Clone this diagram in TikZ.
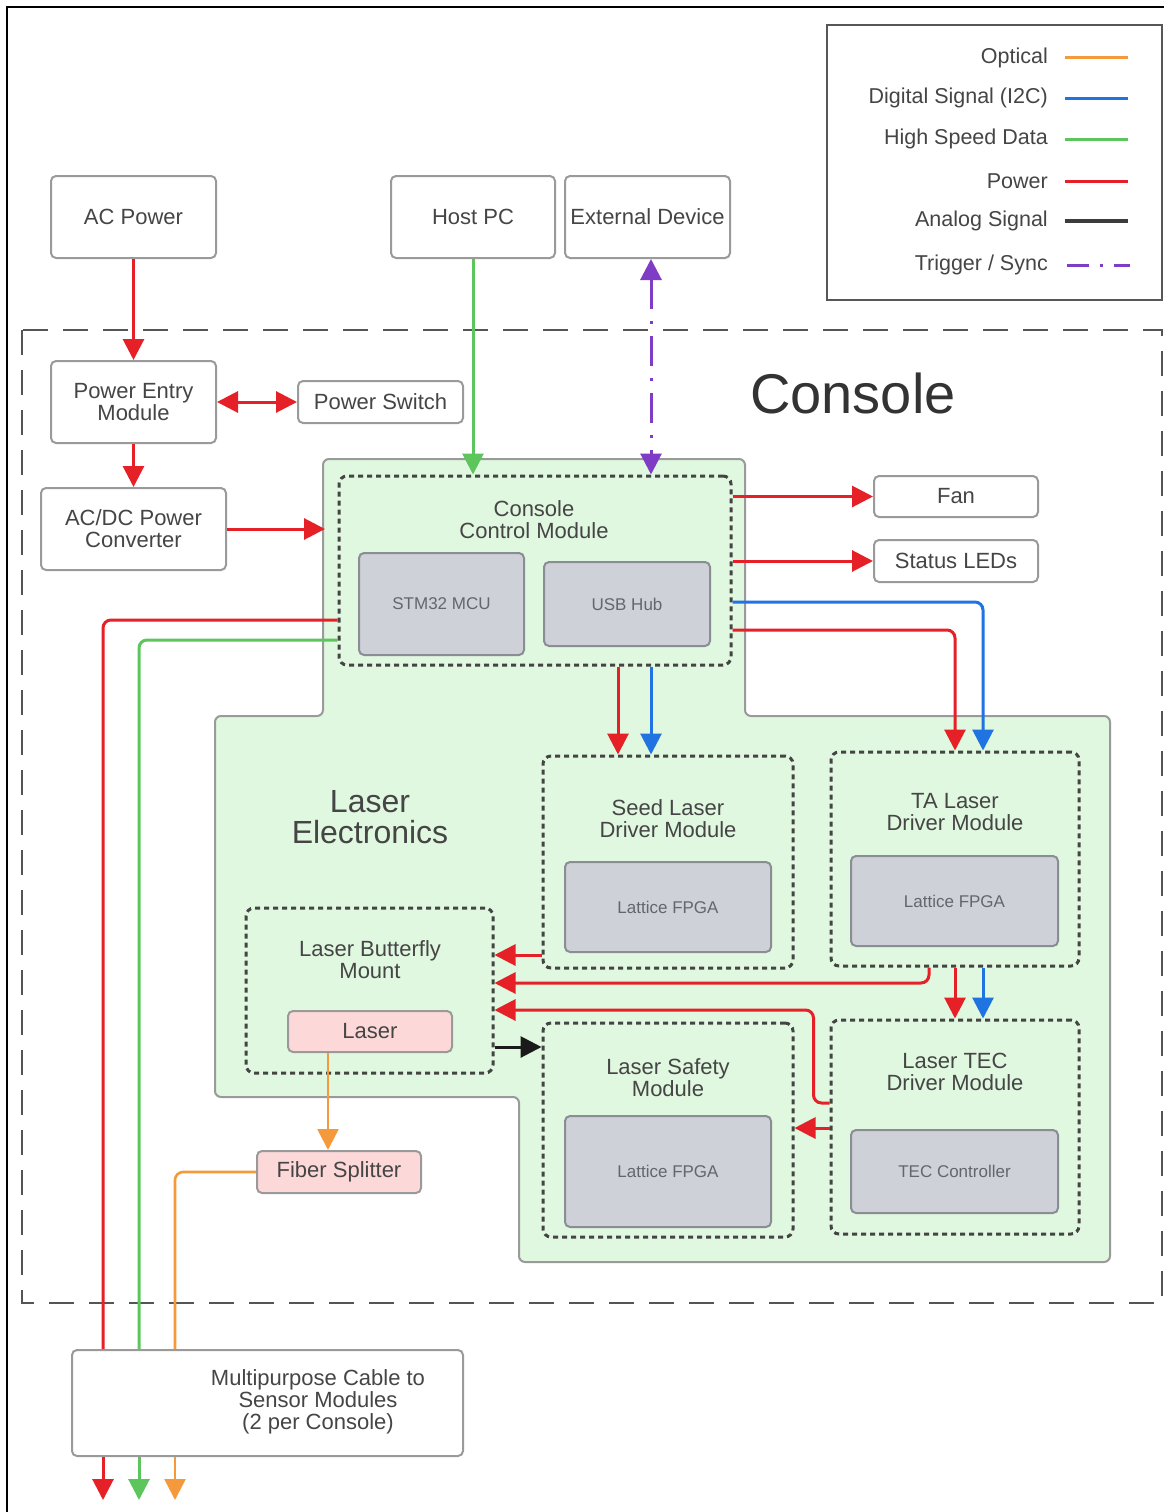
\documentclass[tikz,border=0pt]{standalone}
\usepackage{fontspec}
\setmainfont{Liberation Sans}
\usetikzlibrary{arrows.meta,calc}

\definecolor{pwr}{HTML}{E62027}
\definecolor{hsd}{HTML}{5CC65C}
\definecolor{i2c}{HTML}{1F74E2}
\definecolor{opt}{HTML}{F59A3C}
\definecolor{ana}{HTML}{1A1A1A}
\definecolor{trig}{HTML}{7E3DC4}
\definecolor{boxgray}{HTML}{9A9A9A}
\definecolor{txt}{HTML}{454545}
\definecolor{chipfill}{HTML}{CED2D8}
\definecolor{chipedge}{HTML}{8A8E94}
\definecolor{chiptxt}{HTML}{63676D}
\definecolor{pinkfill}{HTML}{FDD8D8}
\definecolor{regfill}{HTML}{E0F7E0}
\definecolor{dotgray}{HTML}{444444}
\definecolor{consgray}{HTML}{555555}

\begin{document}
\begin{tikzpicture}[x=1pt,y=-1pt,
  box/.style={draw=boxgray, line width=2pt, rounded corners=5pt, fill=white,
    text=txt, font=\fontsize{22}{22}\selectfont, align=center, inner sep=0pt},
  chip/.style={box, fill=chipfill, draw=chipedge, text=chiptxt,
    font=\fontsize{17}{19}\selectfont},
  pinkbox/.style={box, fill=pinkfill},
  module/.style={draw=dotgray, line width=3pt, dash pattern=on 5pt off 4pt,
    rounded corners=8pt, inner sep=0pt},
  lbl/.style={text=txt, font=\fontsize{22}{22}\selectfont, align=center},
  lgtext/.style={text=txt, font=\fontsize{21.5}{22}\selectfont, anchor=east, inner sep=0pt},
  wire/.style={line width=3pt, rounded corners=8pt},
  arr/.style={-{Triangle[length=21pt,width=21pt]}},
  arrs/.style={{Triangle[length=21pt,width=21pt]}-{Triangle[length=21pt,width=21pt]}},
  trigline/.style={dash pattern=on 30pt off 12pt on 3pt off 12pt}
]
\useasboundingbox (0,0) rectangle (1164,1512);
\fill[white] (0,0) rectangle (1164,1512);

% page frame
\draw[black, line width=2.5pt] (7,1512) -- (7,7) -- (1164,7);

% legend
\node[draw=dotgray!90, line width=2.5pt, minimum width=335pt, minimum height=275pt, inner sep=0pt] (lg) at (994.5,162.5) {};
\node[lgtext] (l1) at (1048,58) {Optical};
\node[lgtext] (l2) at (1048,98) {Digital Signal (I2C)};
\node[lgtext] (l3) at (1048,139) {High Speed Data};
\node[lgtext] (l4) at (1048,181) {Power};
\node[lgtext] (l5) at (1048,221) {Analog Signal};
\node[lgtext] (l6) at (1048,265) {Trigger / Sync};
\draw[opt, line width=3pt] ([xshift=17pt]l1.east) -- ++(63,0);
\draw[i2c, line width=3pt] ([xshift=17pt]l2.east) -- ++(63,0);
\draw[hsd, line width=3pt] ([xshift=17pt]l3.east) -- ++(63,0);
\draw[pwr, line width=3pt] ([xshift=17pt]l4.east) -- ++(63,0);
\draw[ana!85, line width=3.5pt] ([xshift=17pt]l5.east) -- ++(63,0);
\draw[trig, line width=3pt, dash pattern=on 22pt off 11pt on 3pt off 11pt on 30pt] ([xshift=19pt]l6.east) -- ++(63,0);

% console enclosure
\draw[consgray, line width=2.5pt, dash pattern=on 25pt off 15pt] (22,330) rectangle (1162,1303);
\node[text=black!80, font=\fontsize{56}{58}\selectfont] (consT) at (853,393) {Console};

% laser electronics region
\draw[fill=regfill, draw=boxgray, line width=2pt, rounded corners=6pt]
  (323,459) -- (745,459) -- (745,716) -- (1110,716) -- (1110,1262) -- (519,1262)
  -- (519,1097) -- (215,1097) -- (215,716) -- (323,716) -- cycle;
\coordinate (lein) at (325,529);
\node[text=txt, font=\fontsize{32}{31}\selectfont, align=center] (leT) at (370,817) {Laser\\Electronics};

% external blocks
\node[box, minimum width=165pt, minimum height=82pt] (ac) at (133.5,217) {AC Power};
\node[box, minimum width=164pt, minimum height=82pt] (host) at (473,217) {Host PC};
\node[box, minimum width=165pt, minimum height=82pt] (ext) at (647.5,217) {External Device};

% power path
\node[box, minimum width=165pt, minimum height=82pt] (pem) at (133.5,402) {Power Entry\\Module};
\node[box, minimum width=165pt, minimum height=42pt] (psw) at (380.5,402) {Power Switch};
\node[box, minimum width=185pt, minimum height=82pt] (acdc) at (133.5,529) {AC/DC Power\\Converter};

% console control module
\node[module, minimum width=392pt, minimum height=189pt] (ccm) at (535,570.5) {};
\node[lbl] (ccmT) at (534,520) {Console\\Control Module};
\node[chip, minimum width=165pt, minimum height=102pt] (stm) at (441.5,604) {STM32 MCU};
\node[chip, minimum width=166pt, minimum height=84pt] (usb) at (627,604) {USB Hub};

\node[box, minimum width=164pt, minimum height=41pt] (fan) at (956,496.5) {Fan};
\node[box, minimum width=164pt, minimum height=42pt] (led) at (956,561) {Status LEDs};

% laser driver modules
\node[module, minimum width=250pt, minimum height=212pt] (seed) at (668,862) {};
\node[lbl] (seedT) at (668,819) {Seed Laser\\Driver Module};
\node[chip, minimum width=206pt, minimum height=90pt] (seedF) at (668,907) {Lattice FPGA};

\node[module, minimum width=248pt, minimum height=214pt] (ta) at (955,859) {};
\node[lbl] (taT) at (955,812) {TA Laser\\Driver Module};
\node[chip, minimum width=207pt, minimum height=90pt] (taF) at (954.5,901) {Lattice FPGA};

\node[module, minimum width=247pt, minimum height=165pt] (lbm) at (369.5,990.5) {};
\node[lbl] (lbmT) at (370,960) {Laser Butterfly\\Mount};
\node[pinkbox, minimum width=164pt, minimum height=41pt] (laser) at (370,1031.5) {Laser};

\node[module, minimum width=250pt, minimum height=214pt] (lsm) at (668,1130) {};
\node[lbl] (lsmT) at (668,1078) {Laser Safety\\Module};
\node[chip, minimum width=206pt, minimum height=111pt] (lsmF) at (668,1171.5) {Lattice FPGA};

\node[module, minimum width=248pt, minimum height=214pt] (tec) at (955,1127) {};
\node[lbl] (tecT) at (955,1072) {Laser TEC\\Driver Module};
\node[chip, minimum width=207pt, minimum height=83pt] (tecC) at (954.5,1171.5) {TEC Controller};

\node[pinkbox, minimum width=164pt, minimum height=42pt] (fs) at (339,1172) {Fiber Splitter};

% multipurpose cable
\node[box, minimum width=391pt, minimum height=106pt] (cable) at (267.5,1403) {};
\node[lbl] (cableT) at (318,1402) {Multipurpose Cable to\\Sensor Modules\\(2 per Console)};

% cable outputs
\coordinate (o1) at (103,1500);
\coordinate (o2) at (139,1500);
\coordinate (o3) at (175,1500);

% ---- connectors ----
\draw[wire, pwr, arr] (ac) -- (pem);
\draw[wire, pwr, arrs] (pem) -- (psw);
\draw[wire, pwr, arr] (pem) -- (acdc);
\draw[wire, pwr, arr] (acdc.east) -- (lein);
\draw[wire, hsd, arr] (host.south) -- (host.south |- ccm.north);
\coordinate (exA) at ($(ext.south)+(3.5,0)$);
\draw[wire, trig, arrs, trigline] (exA) -- (exA |- ccm.north);

\draw[wire, pwr, arr] (ccm.east |- fan) -- (fan.west);
\draw[wire, pwr, arr] (ccm.east |- led) -- (led.west);
\draw[wire, i2c, arr] ($(ccm.east)+(0,31.5)$) -| ($(ta.north)+(28,0)$);
\draw[wire, pwr, arr] ($(ccm.east)+(0,59.5)$) -| (ta.north);

\coordinate (sR) at ($(seed.north)+(-50,0)$);
\coordinate (sB) at ($(seed.north)+(-17,0)$);
\draw[wire, pwr, arr] (sR |- ccm.south) -- (sR);
\draw[wire, i2c, arr] (sB |- ccm.south) -- (sB);

\draw[wire, pwr] ($(ccm.west)+(0,49.5)$) -| (cable.north -| o1);
\draw[wire, hsd] ($(ccm.west)+(0,69.5)$) -| (cable.north -| o2);

\coordinate (a1) at ($(seed.west)+(0,93)$);
\draw[wire, pwr, arr] (a1) -- (a1 -| lbm.east);
\coordinate (a2) at ($(ta.south)+(-26,0)$);
\draw[wire, pwr, arr] (a2) |- ($(lbm.east)+(0,-7.5)$);
\draw[wire, pwr, arr] (ta.south) -- (tec.north);
\coordinate (a3) at ($(ta.south)+(28,0)$);
\draw[wire, i2c, arr] (a3) -- (a3 |- tec.north);
\coordinate (a4) at ($(tec.west)+(0,-24)$);
\draw[wire, pwr, arr] (a4) -- ++(-16,0) |- ($(lbm.east)+(0,19.5)$);
\coordinate (a5) at ($(tec.west)+(0,1)$);
\draw[wire, pwr, arr] (a5) -- (a5 -| lsm.east);
\coordinate (a6) at ($(lbm.east)+(0,56.5)$);
\draw[wire, ana, arr] (a6) -- (a6 -| lsm.west);
\coordinate (a7) at ($(laser.south)+(-42,0)$);
\draw[wire, opt, line width=2.6pt, arr] (a7) -- (a7 |- fs.north);
\draw[wire, opt, line width=2.6pt] (fs.west) -| (cable.north -| o3);

\draw[wire, pwr, arr] (cable.south -| o1) -- (o1);
\draw[wire, hsd, arr] (cable.south -| o2) -- (o2);
\draw[wire, opt, line width=2.6pt, arr] (cable.south -| o3) -- (o3);
\end{tikzpicture}
\end{document}
